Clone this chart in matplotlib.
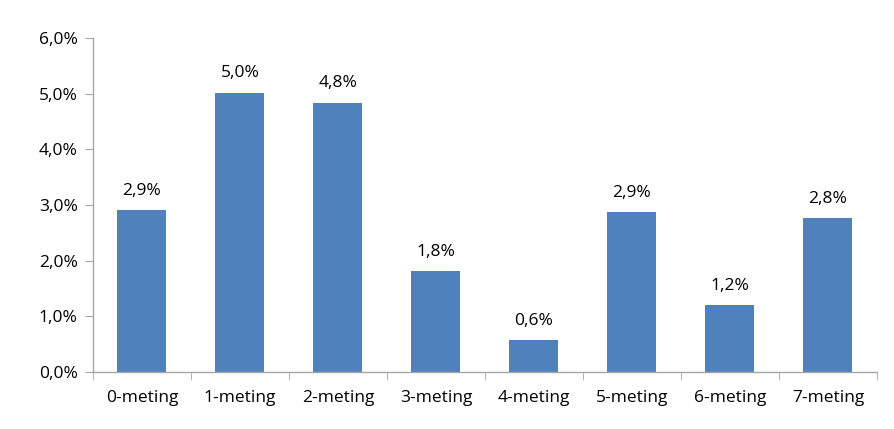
import matplotlib
matplotlib.use("Agg")
import matplotlib.pyplot as plt
import numpy as np

categories = ["0-meting", "1-meting", "2-meting", "3-meting", "4-meting", "5-meting", "6-meting", "7-meting"]
values = [2.91, 5.02, 4.84, 1.81, 0.58, 2.88, 1.20, 2.76]
labels = ["2,9%", "5,0%", "4,8%", "1,8%", "0,6%", "2,9%", "1,2%", "2,8%"]
yticks = [0, 1, 2, 3, 4, 5, 6]
ytick_labels = ["0,0%", "1,0%", "2,0%", "3,0%", "4,0%", "5,0%", "6,0%"]

plt.rcParams['font.family'] = ['Open Sans', 'DejaVu Sans']
fs = 12.5

fig = plt.figure(figsize=(8.95, 4.29), dpi=100)
ax = fig.add_axes([93/895, (429-372)/429, (877-93)/895, (372-38)/429])

x = np.arange(len(categories))
bars = ax.bar(x, values, width=0.5, color="#4F81BD", zorder=2)
for xi, v, lab in zip(x, values, labels):
    ax.text(xi, v + 0.2, lab, ha="center", va="bottom", fontsize=fs, color="#000000")

ax.set_xlim(-0.5, len(categories) - 0.5)
ax.set_ylim(0, 6)
ax.set_yticks(yticks)
ax.set_yticklabels(ytick_labels, fontsize=fs)
ax.set_xticks(x)
ax.set_xticklabels(categories, fontsize=fs)
ax.set_xticks(np.arange(-0.5, len(categories)), minor=True)
ax.tick_params(axis="x", which="major", length=0, pad=13)
ax.tick_params(axis="x", which="minor", length=6, color="#A6A6A6", direction="out")
ax.tick_params(axis="y", length=6, color="#A6A6A6", direction="out", pad=5)

for s in ["top", "right"]:
    ax.spines[s].set_visible(False)
for s in ["left", "bottom"]:
    ax.spines[s].set_color("#A6A6A6")
    ax.spines[s].set_linewidth(1)

fig.savefig("out.png", dpi=100)
